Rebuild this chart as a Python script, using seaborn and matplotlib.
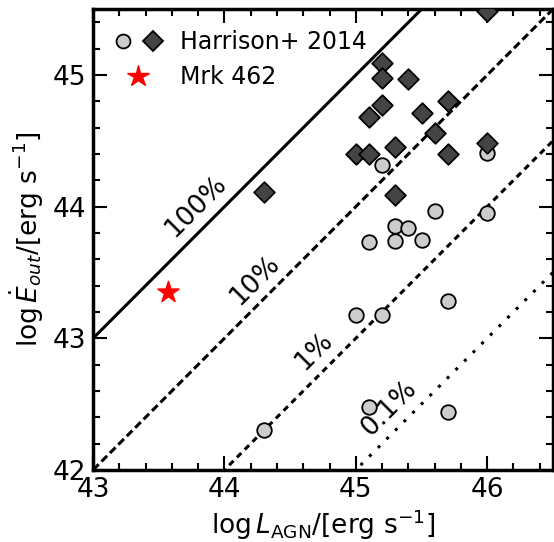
import numpy as np
import pandas as pd
import seaborn as sns
import matplotlib.pyplot as plt
from matplotlib.legend_handler import HandlerTuple
from matplotlib.ticker import MultipleLocator

# Harrison+ 2014, circles (light grey)
circ_lagn = [45.2, 46.0, 45.6, 46.0, 45.3, 45.4, 45.1, 45.3, 45.5, 45.7, 45.0, 45.2, 45.1, 45.7, 44.3]
circ_eout = [44.32, 44.41, 43.97, 43.95, 43.85, 43.84, 43.73, 43.74, 43.75, 43.28, 43.18, 43.18, 42.48, 42.44, 42.30]

# Harrison+ 2014, diamonds (dark grey)
diam_lagn = [46.0, 45.2, 45.2, 45.4, 45.2, 45.1, 45.5, 45.7, 45.6, 46.0, 45.0, 45.1, 45.3, 45.7, 45.3, 44.3]
diam_eout = [45.49, 45.09, 44.98, 44.97, 44.77, 44.68, 44.71, 44.80, 44.56, 44.48, 44.40, 44.40, 44.45, 44.40, 44.09, 44.11]

# Mrk 462
mrk_lagn = [43.57]
mrk_eout = [43.35]

# coupling efficiencies
eff_labels = ["100%", "10%", "1%", "0.1%"]
eff_offsets = [0, -1, -2, -3]

circ = pd.DataFrame({"lagn": circ_lagn, "eout": circ_eout})
diam = pd.DataFrame({"lagn": diam_lagn, "eout": diam_eout})

sns.set_style("ticks")
plt.rcParams['font.family'] = ['DejaVu Sans']
plt.rcParams['text.color'] = 'black'
plt.rcParams['axes.labelcolor'] = 'black'
plt.rcParams['xtick.color'] = 'black'
plt.rcParams['ytick.color'] = 'black'
plt.rcParams['axes.edgecolor'] = 'black'

fig = plt.figure(figsize=(5.54, 5.42), dpi=100)
ax = fig.add_axes([0.168, 0.133, 0.830, 0.850])

xx = np.array([43, 46.5])
styles = ["-", (0, (2.6, 1.3)), (0, (2.0, 1.6)), (0, (1, 3))]
for off, ls in zip(eff_offsets, styles):
    ax.plot(xx, xx + off, color="black", lw=2.2, ls=ls, zorder=1)

sns.scatterplot(data=circ, x="lagn", y="eout", ax=ax, marker="o", s=110,
                color="#cccccc", edgecolor="black", linewidth=1.3, zorder=3)
sns.scatterplot(data=diam, x="lagn", y="eout", ax=ax, marker="D", s=110,
                color="#444444", edgecolor="black", linewidth=1.3, zorder=4)
ax.scatter(mrk_lagn, mrk_eout, marker="*", s=260, color="red", zorder=5)

# efficiency labels along the lines
label_pos = [(43.78, 44.0), (44.23, 43.44), (44.68, 42.90), (45.25, 42.47)]
for lab, (tx, ty) in zip(eff_labels, label_pos):
    ax.text(tx, ty, lab, rotation=45, fontsize=19, ha="center", va="center")

ax.set_xlim(43, 46.5)
ax.set_ylim(42, 45.5)
ax.xaxis.set_major_locator(MultipleLocator(1))
ax.yaxis.set_major_locator(MultipleLocator(1))
ax.xaxis.set_minor_locator(MultipleLocator(0.2))
ax.yaxis.set_minor_locator(MultipleLocator(0.2))
ax.tick_params(which="both", direction="in", top=True, right=True, width=1.5)
ax.tick_params(which="major", length=10, labelsize=19, pad=5)
ax.tick_params(which="minor", length=5)
for sp in ax.spines.values():
    sp.set_linewidth(2.5)

ax.set_xlabel(r"$\log L_{\rm AGN}$/[erg s$^{-1}$]", fontsize=19, labelpad=3)
ax.set_ylabel(r"$\log\dot{E}_{out}$/[erg s$^{-1}$]", fontsize=19, labelpad=5)

h_c = plt.Line2D([], [], ls="none", marker="o", ms=10, mfc="#cccccc", mec="black", mew=1.3)
h_d = plt.Line2D([], [], ls="none", marker="D", ms=10, mfc="#444444", mec="black", mew=1.3)
h_s = plt.Line2D([], [], ls="none", marker="*", ms=16, mfc="red", mec="red")
ax.legend([(h_c, h_d), h_s], ["Harrison+ 2014", "Mrk 462"],
          handler_map={tuple: HandlerTuple(ndivide=None, pad=0.6)},
          loc="upper left", frameon=False, fontsize=17, handlelength=2.0,
          handletextpad=0.8, borderaxespad=0.5, labelspacing=0.45)

fig.savefig("out.png", dpi=100)
